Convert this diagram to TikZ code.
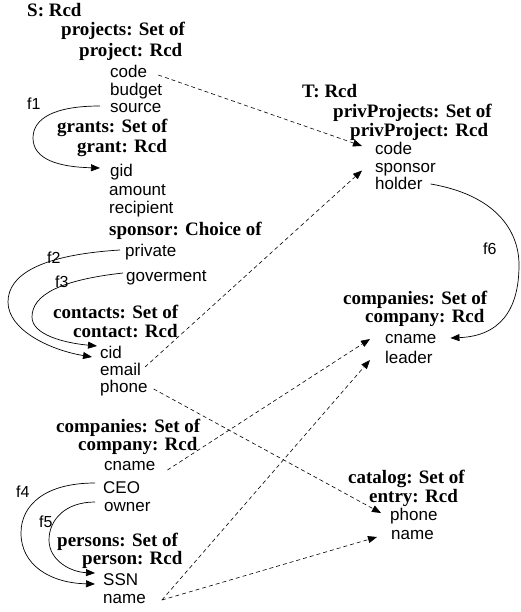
\documentclass[tikz,border=0pt]{standalone}
\usepackage{fontspec}
\setmainfont{Liberation Serif}
\setsansfont{Liberation Sans}
\usetikzlibrary{arrows.meta}
\begin{document}
\begin{tikzpicture}[x=1pt,y=-1pt,
  hd/.style={font=\bfseries\fontsize{19}{20}\selectfont, anchor=base west, inner sep=0pt},
  fd/.style={font=\sffamily\fontsize{17}{18}\selectfont, anchor=base west, inner sep=0pt},
  lbl/.style={font=\sffamily\fontsize{16}{17}\selectfont, anchor=base west, inner sep=0pt},
  dsh/.style={dash pattern=on 4pt off 3pt, line width=0.6pt, -{Triangle[length=9pt,width=7pt]}},
  fn/.style={line width=0.7pt, -{Triangle[length=9pt,width=7pt]}}]
\useasboundingbox (0,0) rectangle (521,612);
% ---- source schema S
\node[hd] (S) at (27,17) {S: Rcd};
\node[hd] (projects) at (61,36) {projects: Set of};
\node[hd] (project) at (79,57) {project: Rcd};
\node[fd] (code) at (110,78) {code};
\node[fd] (budget) at (110,95.5) {budget};
\node[fd] (source) at (110,113) {source};
\node[lbl] (f1) at (27,110) {f1};
\node[hd] (grants) at (57,133) {grants: Set of};
\node[hd] (grant) at (77,153) {grant: Rcd};
\node[fd] (gid) at (110,177) {gid};
\node[fd] (amount) at (109,196) {amount};
\node[fd] (recipient) at (109,213) {recipient};
\node[hd] (sponsor) at (109,235) {sponsor: Choice of};
\node[fd] (private) at (125,256) {private};
\node[fd] (gov) at (126,281) {goverment};
\node[lbl] (f2) at (47,263) {f2};
\node[lbl] (f3) at (55,287) {f3};
\node[hd] (contacts) at (53,318) {contacts: Set of};
\node[hd] (contact) at (73,337) {contact: Rcd};
\node[fd] (cid) at (100,358) {cid};
\node[fd] (email) at (100,375) {email};
\node[fd] (phone) at (100,392) {phone};
\node[hd] (companiesS) at (56,432) {companies: Set of};
\node[hd] (companyS) at (78,450) {company: Rcd};
\node[fd] (cnameS) at (104,470) {cname};
\node[fd] (CEO) at (103,493) {CEO};
\node[fd] (owner) at (104,511) {owner};
\node[lbl] (f4) at (16,497) {f4};
\node[lbl] (f5) at (39,527) {f5};
\node[hd] (persons) at (57,546) {persons: Set of};
\node[hd] (person) at (82,564) {person: Rcd};
\node[fd] (SSN) at (103,585) {SSN};
\node[fd] (nameS) at (103,603) {name};
% ---- target schema T
\node[hd] (T) at (302,98) {T: Rcd};
\node[hd] (privProjects) at (333,118) {privProjects: Set of};
\node[hd] (privProject) at (350,137) {privProject: Rcd};
\node[fd] (codeT) at (375,155) {code};
\node[fd] (sponsorT) at (375,172.5) {sponsor};
\node[fd] (holder) at (375,190) {holder};
\node[lbl] (f6) at (483,254) {f6};
\node[hd] (companiesT) at (343,304) {companies: Set of};
\node[hd] (companyT) at (365,322) {company: Rcd};
\node[fd] (cnameT) at (385,343) {cname};
\node[fd] (leader) at (385,363) {leader};
\node[hd] (catalog) at (348,483) {catalog: Set of};
\node[hd] (entry) at (369,502) {entry: Rcd};
\node[fd] (phoneT) at (390,520) {phone};
\node[fd] (nameT) at (391,539) {name};
% ---- dashed correspondences
\draw[dsh] ([shift={(11,-3)}]code.base east) -- ([shift={(-13,-9)}]codeT.base west);
\draw[dsh] ([shift={(4,-8)}]email.base east) -- ([shift={(-13,-2)}]sponsorT.base west);
\draw[dsh] ([shift={(6,-3)}]phone.base east) -- ([shift={(-9,-7)}]phoneT.base west);
\draw[dsh] ([shift={(12,0)}]cnameS.base east) -- ([shift={(-15,-4)}]cnameT.base west);
\draw[dsh] ([shift={(16,-3)}]nameS.base east) -- ([shift={(-15,-3)}]leader.base west);
\draw[dsh] ([shift={(16,-3)}]nameS.base east) -- ([shift={(-14,-2)}]nameT.base west);
% ---- foreign keys
\draw[fn] ([shift={(-10,-7)}]source.base west) .. controls (55,106) and (33,118) .. (33,138)
  .. controls (33,160) and (60,167) .. ([shift={(-10,-9)}]gid.base west);
\draw[fn] ([shift={(-5,-6)}]private.base west) .. controls (40,255) and (8,275) .. (8,302)
  .. controls (8,330) and (50,350) .. ([shift={(-8,-1)}]cid.base west);
\draw[fn] ([shift={(-3,-8)}]gov.base west) .. controls (60,280) and (32,295) .. (32,317)
  .. controls (32,335) and (65,343) .. ([shift={(-3,-12)}]cid.base west);
\draw[fn] ([shift={(-8,-10)}]CEO.base west) .. controls (45,483) and (21,505) .. (21,533)
  .. controls (21,565) and (50,583) .. ([shift={(-8,-1)}]SSN.base west);
\draw[fn] ([shift={(-9,-9)}]owner.base west) .. controls (65,502) and (49,520) .. (49,540)
  .. controls (49,560) and (70,572) .. ([shift={(-8,-12)}]SSN.base west);
\draw[fn] ([shift={(8,-6)}]holder.base east) .. controls (495,195) and (519,230) .. (519,265)
  .. controls (519,310) and (500,336) .. ([shift={(14,-5)}]cnameT.base east);
\end{tikzpicture}
\end{document}
